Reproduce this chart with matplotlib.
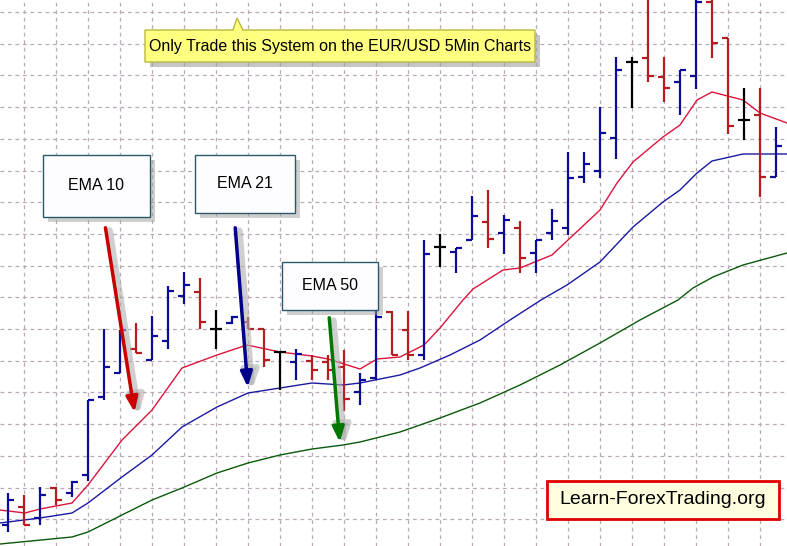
import matplotlib.pyplot as plt
from matplotlib.patches import FancyBboxPatch, Polygon

plt.rcParams['font.family'] = ['Liberation Sans', 'DejaVu Sans']

# bar positions (screen columns) and OHLC (screen rows, top = 0)
bar_x = [8, 24, 40, 56, 72, 88, 104, 120, 136, 152, 168, 184, 200, 216, 232, 248, 264, 280,
         296, 312, 328, 344, 360, 376, 392, 408, 424, 440, 456, 472, 488, 504, 520, 536, 552,
         568, 584, 600, 616, 632, 648, 664, 680, 696, 712, 728, 744, 760, 776]
highs = [493, 495, 487, 487, 481, 400, 329, 330, 323, 316, 286, 272, 278, 310, 316, 317, 329, 352,
         349, 355, 355, 350, 373, 304, 311, 311, 240, 234, 248, 196, 190, 215, 221, 240, 209,
         152, 152, 107, 57, 57, 0, 57, 70, 0, 0, 38, 88, 88, 127]
lows = [532, 525, 525, 505, 497, 481, 400, 373, 353, 360, 349, 304, 329, 349, 324, 329, 367, 390,
        380, 380, 380, 411, 405, 380, 355, 360, 360, 267, 273, 240, 248, 254, 273, 273, 240,
        235, 183, 178, 159, 108, 82, 102, 115, 89, 58, 134, 140, 197, 177]
opens = [525, 507, 518, 488, 493, 475, 397, 373, 349, 360, 341, 296, 292, 329, 323, 322, 329, 352,
         362, 361, 362, 367, 392, 378, 312, 330, 355, 247, 252, 240, 222, 233, 228, 253, 233,
         228, 177, 171, 138, 62, 58, 77, 82, 76, 2, 38, 120, 115, 177]
closes = [500, 525, 495, 500, 482, 400, 367, 330, 353, 336, 291, 285, 322, 329, 317, 329, 360, 352,
          354, 370, 370, 399, 380, 317, 355, 355, 254, 247, 248, 216, 239, 220, 258, 240, 221,
          178, 164, 133, 70, 62, 76, 88, 70, 2, 43, 126, 120, 177, 146]

ema10_x = [0, 25, 40, 72, 88, 122, 152, 182, 217, 247, 280, 312, 328, 360, 377, 400, 424, 440,
           463, 473, 503, 520, 552, 568, 600, 617, 633, 663, 680, 697, 712, 743, 760, 787]
ema10_y = [510, 513, 509, 503, 485, 440, 410, 368, 355, 345, 352, 356, 359, 369, 359, 357, 345, 328,
           300, 289, 270, 268, 255, 240, 210, 183, 162, 137, 125, 100, 92, 100, 113, 123]
ema21_x = [0, 40, 72, 88, 122, 152, 182, 217, 248, 280, 312, 343, 360, 400, 420, 450, 480, 510,
           541, 567, 600, 633, 663, 680, 697, 712, 743, 787]
ema21_y = [523, 518, 513, 503, 477, 455, 427, 407, 393, 388, 383, 385, 383, 375, 368, 355, 340, 320,
           300, 285, 262, 227, 202, 190, 173, 161, 154, 154]
ema50_x = [0, 72, 88, 122, 152, 182, 217, 248, 280, 312, 343, 360, 400, 440, 480, 520, 560, 600,
           640, 678, 693, 713, 743, 787]
ema50_y = [544, 537, 532, 515, 500, 488, 473, 463, 455, 449, 445, 442, 432, 418, 403, 385, 365, 343,
           320, 300, 288, 277, 265, 253]

BLUE = '#0c0c96'
RED = '#b41e1e'

fig = plt.figure(figsize=(7.87, 5.46), dpi=100)
ax = fig.add_axes([0, 0, 1, 1])
ax.set_xlim(0, 787)
ax.set_ylim(546, 0)
ax.axis('off')

# dashed grid
for gx in range(24, 787, 32):
    ax.axvline(gx, color='#b8a8b8', lw=0.9, ls=(0, (3, 3)), zorder=0)
for gy in [12 + 31.7 * k for k in range(18)]:
    ax.axhline(gy, color='#b8a8b8', lw=0.9, ls=(0, (3, 3)), zorder=0)

ax.plot(ema50_x, ema50_y, color='#0a5a0a', lw=1, zorder=2)
ax.plot(ema21_x, ema21_y, color='#1a1aa0', lw=1, zorder=2)
ax.plot(ema10_x, ema10_y, color='#dc143c', lw=1, zorder=2)

# OHLC bars
for x, h, l, o, c in zip(bar_x, highs, lows, opens, closes):
    col = BLUE if c < o else (RED if c > o else 'black')
    ax.plot([x, x], [h, l], color=col, lw=1.6, zorder=3, solid_capstyle='butt')
    ax.plot([x - 6, x], [o, o], color=col, lw=1.6, zorder=3, solid_capstyle='butt')
    ax.plot([x, x + 6], [c, c], color=col, lw=1.6, zorder=3, solid_capstyle='butt')

# yellow callout
call = Polygon([[145, 30], [233, 30], [237, 18], [243, 30], [535, 30], [535, 62], [145, 62]],
               closed=True, fc='#ffff80', ec='#b8b840', lw=1, zorder=5)
shadow = Polygon([[150, 35], [540, 35], [540, 67], [150, 67]], closed=True,
                 fc='#a0a0a0', ec='none', alpha=0.6, zorder=4)
ax.add_patch(shadow)
ax.add_patch(call)
ax.text(340, 47, 'Only Trade this System on the EUR/USD 5Min Charts', fontsize=11.5,
        ha='center', va='center', zorder=6)

# EMA label boxes with arrows
labels = [('EMA 10', 43, 155, 107, 62, (105, 225), (135, 415), '#c80000'),
          ('EMA 21', 195, 155, 100, 58, (235, 225), (248, 390), '#00008b'),
          ('EMA 50', 282, 262, 96, 48, (329, 315), (340, 445), '#007800')]
for txt, bx, by, bw, bh, p0, p1, acol in labels:
    ax.add_patch(plt.Rectangle((bx + 5, by + 5), bw, bh, fc='#a0a0a0', ec='none', alpha=0.5, zorder=4))
    ax.add_patch(plt.Rectangle((bx, by), bw, bh, fc='#fdfdff', ec='#2a5a6a', lw=1, zorder=5))
    ax.text(bx + bw / 2, by + bh / 2, txt, fontsize=11.5, ha='center', va='center', zorder=6)
    ax.annotate('', xy=(p1[0] + 4, p1[1] + 3), xytext=(p0[0] + 4, p0[1] + 3),
                arrowprops=dict(arrowstyle='-|>,head_width=0.45,head_length=1.0', color='#b0b0b0',
                                lw=5, alpha=0.6), zorder=5)
    ax.annotate('', xy=p1, xytext=p0,
                arrowprops=dict(arrowstyle='-|>,head_width=0.35,head_length=0.9', color=acol, lw=2.5),
                zorder=6)

# site label
ax.add_patch(plt.Rectangle((547, 481), 232, 38, fc='#ffffe0', ec='#e00000', lw=2, zorder=6))
ax.text(663, 500, 'Learn-ForexTrading.org', fontsize=14, ha='center', va='center', zorder=7)

fig.savefig('out.png', dpi=100)
